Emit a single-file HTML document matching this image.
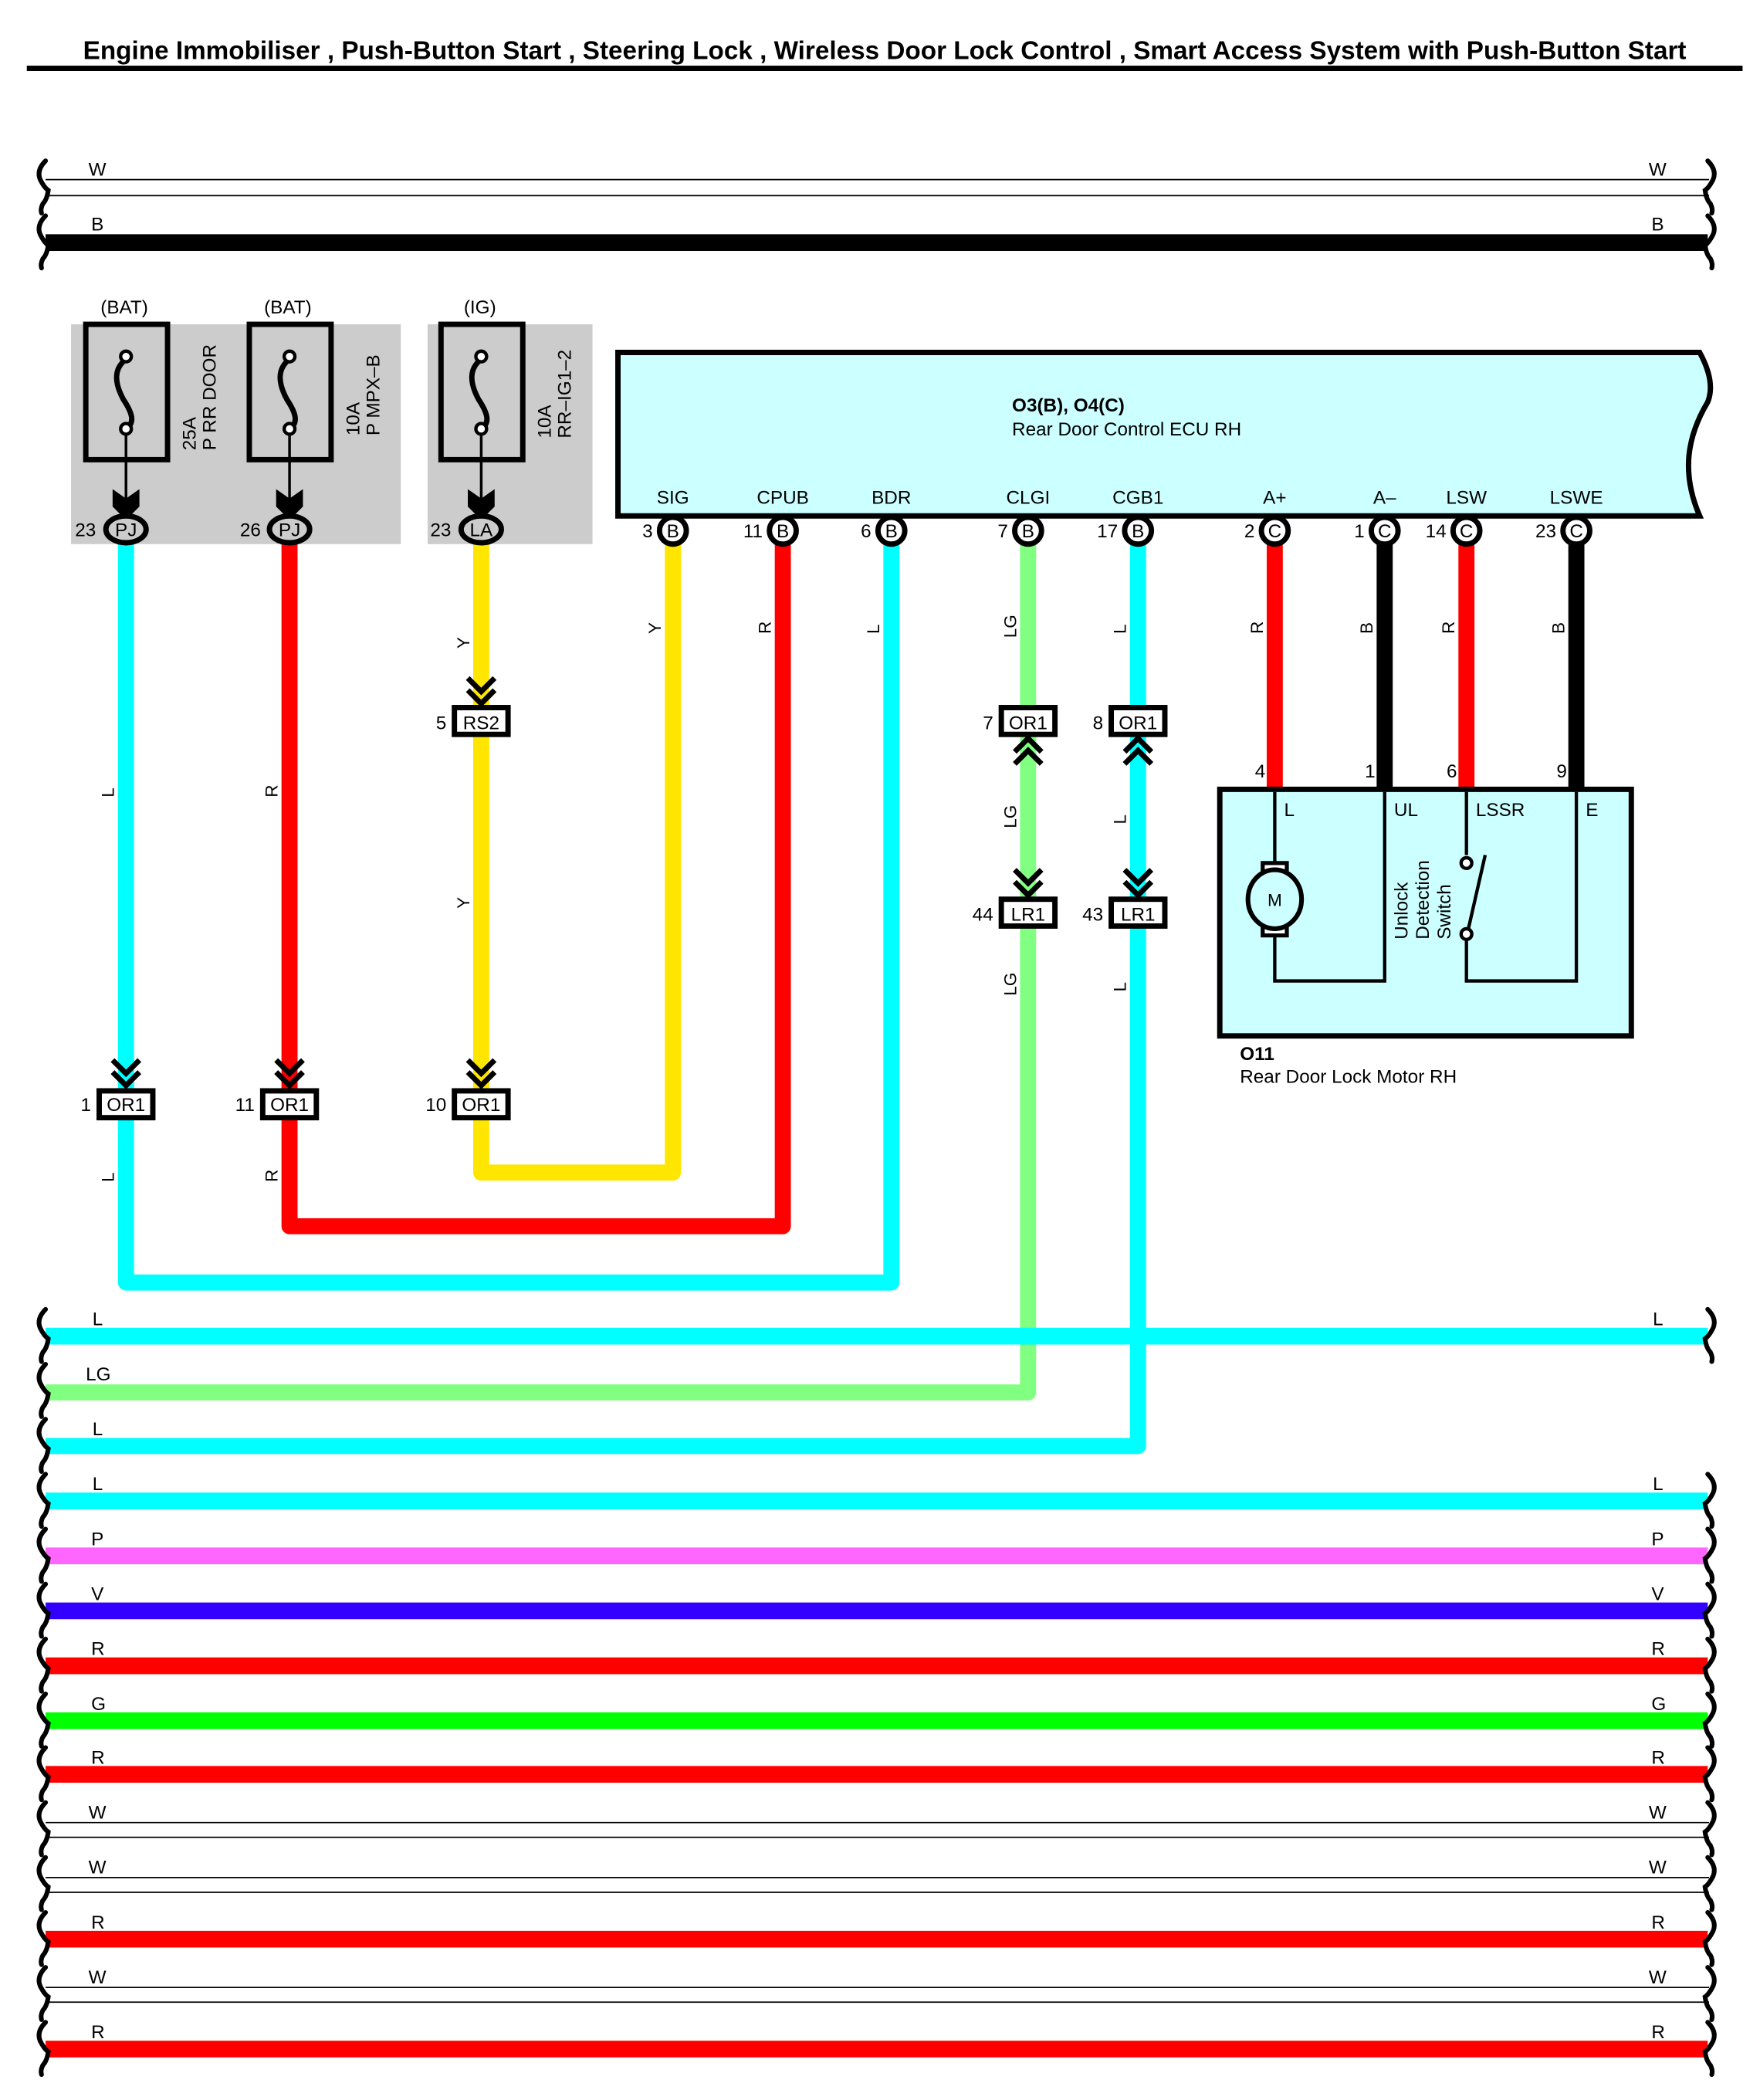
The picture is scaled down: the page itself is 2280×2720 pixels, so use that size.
<!DOCTYPE html>
<html><head><meta charset="utf-8"><style>
html,body{margin:0;padding:0;background:#fff;}
svg{display:block;}
text{font-family:"Liberation Sans Narrow","Liberation Sans",sans-serif;fill:#000;}
</style></head><body>
<svg width="2280" height="2720" viewBox="0 0 1313 1567" preserveAspectRatio="none" xmlns="http://www.w3.org/2000/svg">
<defs>
<path id="sqL" d="M34,-20 Q27,-13 30,-6 Q33,0 36,2 Q35,9 32,12 Q30,16 31,19" fill="none" stroke="#000" stroke-width="3.5" stroke-linecap="round"/>
<path id="sqR" d="M1274,-20 Q1281,-13 1278,-6 Q1275,0 1272,2 Q1273,9 1276,12 Q1278,16 1277,19" fill="none" stroke="#000" stroke-width="3.5" stroke-linecap="round"/>
<g id="chD"><polyline points="-10,-22 0,-12 10,-22" fill="none" stroke="#000" stroke-width="4"/><polyline points="-10,-13 0,-3 10,-13" fill="none" stroke="#000" stroke-width="4"/></g>
<g id="chU"><polyline points="-10,22 0,12 10,22" fill="none" stroke="#000" stroke-width="4"/><polyline points="-10,13 0,3 10,13" fill="none" stroke="#000" stroke-width="4"/></g>
</defs>

<text x="62" y="44" font-size="19" font-weight="bold" textLength="1196" lengthAdjust="spacingAndGlyphs" style="font-family:'Liberation Sans',sans-serif">Engine Immobiliser , Push-Button Start , Steering Lock , Wireless Door Lock Control , Smart Access System with Push-Button Start</text>
<rect x="20" y="49" width="1280" height="4" fill="#000"/>

<line x1="34" y1="134" x2="1275" y2="134" stroke="#000" stroke-width="1"/>
<line x1="34" y1="146" x2="1275" y2="146" stroke="#000" stroke-width="1"/>
<use href="#sqL" transform="translate(0,140)"/><use href="#sqR" transform="translate(0,140)"/>
<text x="66" y="131" font-size="14">W</text><text x="1230" y="131" font-size="14">W</text>
<line x1="34" y1="181" x2="1274" y2="181" stroke="#000" stroke-width="12.5"/>
<use href="#sqL" transform="translate(0,181)"/><use href="#sqR" transform="translate(0,181)"/>
<text x="68" y="172" font-size="14">B</text><text x="1232" y="172" font-size="14">B</text>

<rect x="53" y="242" width="246" height="164" fill="#cccccc"/>
<rect x="319" y="242" width="123" height="164" fill="#cccccc"/>
<g fill="none" stroke="#000" stroke-width="4">
<rect x="64" y="242" width="61" height="101"/>
<rect x="186" y="242" width="61" height="101"/>
<rect x="329" y="242" width="61" height="101"/>
</g>
<g fill="none" stroke="#000" stroke-width="4">
<path d="M94,268 C85,275 85,285 92,298 C100,310 100,316 94,320"/>
<path d="M216,268 C207,275 207,285 214,298 C222,310 222,316 216,320"/>
<path d="M359,268 C350,275 350,285 357,298 C365,310 365,316 359,320"/>
</g>
<g fill="#fff" stroke="#000" stroke-width="2.5">
<circle cx="94" cy="266" r="4"/><circle cx="94" cy="320" r="4"/>
<circle cx="216" cy="266" r="4"/><circle cx="216" cy="320" r="4"/>
<circle cx="359" cy="266" r="4"/><circle cx="359" cy="320" r="4"/>
</g>
<g stroke="#000" stroke-width="2"><line x1="94" y1="324" x2="94" y2="375"/><line x1="216" y1="324" x2="216" y2="375"/><line x1="359" y1="324" x2="359" y2="375"/></g>
<g fill="#000">
<polygon points="84,365 94,372 104,365 104,378 94,388 84,378"/>
<polygon points="206,365 216,372 226,365 226,378 216,388 206,378"/>
<polygon points="349,365 359,372 369,365 369,378 359,388 349,378"/>
</g>
<text x="75" y="234" font-size="14">(BAT)</text>
<text x="197" y="234" font-size="14">(BAT)</text>
<text x="346" y="234" font-size="14">(IG)</text>
<text transform="translate(146,336) rotate(-90)" font-size="14" style="font-family:'Liberation Sans',sans-serif">25A</text>
<text transform="translate(161,336) rotate(-90)" font-size="14" style="font-family:'Liberation Sans',sans-serif">P RR DOOR</text>
<text transform="translate(268,325) rotate(-90)" font-size="14" style="font-family:'Liberation Sans',sans-serif">10A</text>
<text transform="translate(283,325) rotate(-90)" font-size="14" style="font-family:'Liberation Sans',sans-serif">P MPX–B</text>
<text transform="translate(411,327) rotate(-90)" font-size="14" style="font-family:'Liberation Sans',sans-serif">10A</text>
<text transform="translate(426,327) rotate(-90)" font-size="14" style="font-family:'Liberation Sans',sans-serif">RR–IG1–2</text>

<g fill="none" stroke-width="12" stroke-linejoin="round">
<polyline points="94,405 94,957 665,957 665,405" stroke="#00ffff"/>
<polyline points="216,405 216,915 584,915 584,405" stroke="#ff0000"/>
<polyline points="359,405 359,875 502,875 502,405" stroke="#ffe600"/>
<polyline points="767,405 767,1039 34,1039" stroke="#80ff80"/>
<polyline points="849,405 849,1079 34,1079" stroke="#00ffff"/>
<line x1="951" y1="405" x2="951" y2="590" stroke="#ff0000"/>
<line x1="1033" y1="405" x2="1033" y2="590" stroke="#000"/>
<line x1="1094" y1="405" x2="1094" y2="590" stroke="#ff0000"/>
<line x1="1176" y1="405" x2="1176" y2="590" stroke="#000"/>
</g>

<g fill="#cccccc" stroke="#000" stroke-width="4">
<ellipse cx="94" cy="395" rx="15" ry="10"/>
<ellipse cx="216" cy="395" rx="15" ry="10"/>
<ellipse cx="359" cy="395" rx="15" ry="10"/>
</g>
<text x="94" y="400" font-size="14" text-anchor="middle">PJ</text>
<text x="216" y="400" font-size="14" text-anchor="middle">PJ</text>
<text x="359" y="400" font-size="14" text-anchor="middle">LA</text>
<text x="56" y="400" font-size="14">23</text>
<text x="179" y="400" font-size="14">26</text>
<text x="321" y="400" font-size="14">23</text>

<path d="M461,263 L1268,263 Q1280,285 1274,300 Q1262,320 1260,340 Q1258,362 1268,385 L461,385 Z" fill="#ccffff" stroke="#000" stroke-width="4"/>
<text x="755" y="307" font-size="14" font-weight="bold">O3(B), O4(C)</text>
<text x="755" y="325" font-size="14">Rear Door Control ECU RH</text>
<g font-size="14" text-anchor="middle">
<text x="502" y="376">SIG</text><text x="584" y="376">CPUB</text><text x="665" y="376">BDR</text>
<text x="767" y="376">CLGI</text><text x="849" y="376">CGB1</text><text x="951" y="376">A+</text>
<text x="1033" y="376">A–</text><text x="1094" y="376">LSW</text><text x="1176" y="376">LSWE</text>
</g>
<g fill="#fff" stroke="#000" stroke-width="4">
<circle cx="502" cy="396" r="10"/><circle cx="584" cy="396" r="10"/><circle cx="665" cy="396" r="10"/>
<circle cx="767" cy="396" r="10"/><circle cx="849" cy="396" r="10"/><circle cx="951" cy="396" r="10"/>
<circle cx="1033" cy="396" r="10"/><circle cx="1094" cy="396" r="10"/><circle cx="1176" cy="396" r="10"/>
</g>
<g font-size="14" text-anchor="middle">
<text x="502" y="401">B</text><text x="584" y="401">B</text><text x="665" y="401">B</text>
<text x="767" y="401">B</text><text x="849" y="401">B</text><text x="951" y="401">C</text>
<text x="1033" y="401">C</text><text x="1094" y="401">C</text><text x="1176" y="401">C</text>
</g>
<g font-size="14" text-anchor="end">
<text x="487" y="401">3</text><text x="569" y="401">11</text><text x="650" y="401">6</text>
<text x="752" y="401">7</text><text x="834" y="401">17</text><text x="936" y="401">2</text>
<text x="1018" y="401">1</text><text x="1079" y="401">14</text><text x="1161" y="401">23</text>
</g>

<use href="#chD" transform="translate(359,528)"/>
<use href="#chU" transform="translate(767,548)"/>
<use href="#chU" transform="translate(849,548)"/>
<use href="#chD" transform="translate(767,671)"/>
<use href="#chD" transform="translate(849,671)"/>
<use href="#chD" transform="translate(94,813)"/>
<use href="#chD" transform="translate(216,813)"/>
<use href="#chD" transform="translate(359,813)"/>
<g fill="#fff" stroke="#000" stroke-width="4">
<rect x="339" y="528" width="40" height="20"/>
<rect x="747" y="528" width="40" height="20"/>
<rect x="829" y="528" width="40" height="20"/>
<rect x="747" y="671" width="40" height="20"/>
<rect x="829" y="671" width="40" height="20"/>
<rect x="74" y="814" width="40" height="20"/>
<rect x="196" y="814" width="40" height="20"/>
<rect x="339" y="814" width="40" height="20"/>
</g>
<g font-size="14" text-anchor="middle">
<text x="359" y="544">RS2</text><text x="767" y="544">OR1</text><text x="849" y="544">OR1</text>
<text x="767" y="687">LR1</text><text x="849" y="687">LR1</text>
<text x="94" y="829">OR1</text><text x="216" y="829">OR1</text><text x="359" y="829">OR1</text>
</g>
<g font-size="14" text-anchor="end">
<text x="333" y="544">5</text><text x="741" y="544">7</text><text x="823" y="544">8</text>
<text x="741" y="687">44</text><text x="823" y="687">43</text>
<text x="68" y="829">1</text><text x="190" y="829">11</text><text x="333" y="829">10</text>
</g>

<g font-size="13" style="font-family:'Liberation Sans',sans-serif">
<text transform="translate(85,595) rotate(-90)">L</text>
<text transform="translate(207,595) rotate(-90)">R</text>
<text transform="translate(350,484) rotate(-90)">Y</text>
<text transform="translate(350,678) rotate(-90)">Y</text>
<text transform="translate(493,473) rotate(-90)">Y</text>
<text transform="translate(575,473) rotate(-90)">R</text>
<text transform="translate(656,473) rotate(-90)">L</text>
<text transform="translate(758,476) rotate(-90)">LG</text>
<text transform="translate(840,473) rotate(-90)">L</text>
<text transform="translate(942,473) rotate(-90)">R</text>
<text transform="translate(1024,473) rotate(-90)">B</text>
<text transform="translate(1085,473) rotate(-90)">R</text>
<text transform="translate(1167,473) rotate(-90)">B</text>
<text transform="translate(758,618) rotate(-90)">LG</text>
<text transform="translate(840,615) rotate(-90)">L</text>
<text transform="translate(758,743) rotate(-90)">LG</text>
<text transform="translate(840,740) rotate(-90)">L</text>
<text transform="translate(85,882) rotate(-90)">L</text>
<text transform="translate(207,882) rotate(-90)">R</text>
</g>

<rect x="910" y="589" width="307" height="184" fill="#ccffff" stroke="#000" stroke-width="4"/>
<g fill="none" stroke="#000" stroke-width="2.5">
<polyline points="951,591 951,645"/>
<polyline points="951,697 951,732 1033,732 1033,591"/>
<polyline points="1094,591 1094,638"/>
<polyline points="1094,700 1094,732 1176,732 1176,591"/>
<line x1="1108" y1="638" x2="1095" y2="695"/>
</g>
<rect x="942" y="644" width="18" height="11" fill="#fff" stroke="#000" stroke-width="3"/>
<rect x="942" y="687" width="18" height="11" fill="#fff" stroke="#000" stroke-width="3"/>
<ellipse cx="951" cy="671" rx="20" ry="22" fill="#ccffff" stroke="#000" stroke-width="3.5"/>
<text x="951" y="676" font-size="13" text-anchor="middle">M</text>
<circle cx="1094" cy="644" r="4" fill="#fff" stroke="#000" stroke-width="2.5"/>
<circle cx="1094" cy="697" r="4" fill="#fff" stroke="#000" stroke-width="2.5"/>
<g font-size="14">
<text x="958" y="609">L</text><text x="1040" y="609">UL</text><text x="1101" y="609">LSSR</text><text x="1183" y="609">E</text>
<text x="944" y="580" text-anchor="end">4</text><text x="1026" y="580" text-anchor="end">1</text>
<text x="1087" y="580" text-anchor="end">6</text><text x="1169" y="580" text-anchor="end">9</text>
</g>
<g font-size="14" style="font-family:'Liberation Sans',sans-serif">
<text transform="translate(1050,701) rotate(-90)">Unlock</text>
<text transform="translate(1066,701) rotate(-90)">Detection</text>
<text transform="translate(1082,701) rotate(-90)">Switch</text>
</g>
<text x="925" y="791" font-size="14" font-weight="bold">O11</text>
<text x="925" y="808" font-size="14">Rear Door Lock Motor RH</text>

<g stroke-width="12.5">
<line x1="34" y1="997" x2="1274" y2="997" stroke="#00ffff"/>
<line x1="34" y1="1120" x2="1274" y2="1120" stroke="#00ffff"/>
<line x1="34" y1="1161" x2="1274" y2="1161" stroke="#ff66ff"/>
<line x1="34" y1="1202" x2="1274" y2="1202" stroke="#3300ff"/>
<line x1="34" y1="1243" x2="1274" y2="1243" stroke="#ff0000"/>
<line x1="34" y1="1284" x2="1274" y2="1284" stroke="#00ff00"/>
<line x1="34" y1="1324" x2="1274" y2="1324" stroke="#ff0000"/>
<line x1="34" y1="1447" x2="1274" y2="1447" stroke="#ff0000"/>
<line x1="34" y1="1529" x2="1274" y2="1529" stroke="#ff0000"/>
</g>
<g stroke="#000" stroke-width="1">
<line x1="34" y1="1360" x2="1275" y2="1360"/><line x1="34" y1="1371" x2="1275" y2="1371"/>
<line x1="34" y1="1401" x2="1275" y2="1401"/><line x1="34" y1="1412" x2="1275" y2="1412"/>
<line x1="34" y1="1483" x2="1275" y2="1483"/><line x1="34" y1="1494" x2="1275" y2="1494"/>
</g>
<use href="#sqL" transform="translate(0,997)"/><use href="#sqR" transform="translate(0,997)"/>
<use href="#sqL" transform="translate(0,1038)"/>
<use href="#sqL" transform="translate(0,1079)"/>
<use href="#sqL" transform="translate(0,1120)"/><use href="#sqR" transform="translate(0,1120)"/>
<use href="#sqL" transform="translate(0,1161)"/><use href="#sqR" transform="translate(0,1161)"/>
<use href="#sqL" transform="translate(0,1202)"/><use href="#sqR" transform="translate(0,1202)"/>
<use href="#sqL" transform="translate(0,1243)"/><use href="#sqR" transform="translate(0,1243)"/>
<use href="#sqL" transform="translate(0,1284)"/><use href="#sqR" transform="translate(0,1284)"/>
<use href="#sqL" transform="translate(0,1324)"/><use href="#sqR" transform="translate(0,1324)"/>
<use href="#sqL" transform="translate(0,1365)"/><use href="#sqR" transform="translate(0,1365)"/>
<use href="#sqL" transform="translate(0,1406)"/><use href="#sqR" transform="translate(0,1406)"/>
<use href="#sqL" transform="translate(0,1447)"/><use href="#sqR" transform="translate(0,1447)"/>
<use href="#sqL" transform="translate(0,1488)"/><use href="#sqR" transform="translate(0,1488)"/>
<use href="#sqL" transform="translate(0,1529)"/><use href="#sqR" transform="translate(0,1529)"/>
<g font-size="14">
<text x="69" y="989">L</text><text x="1233" y="989">L</text>
<text x="64" y="1030">LG</text>
<text x="69" y="1071">L</text>
<text x="69" y="1112">L</text><text x="1233" y="1112">L</text>
<text x="68" y="1153">P</text><text x="1232" y="1153">P</text>
<text x="68" y="1194">V</text><text x="1232" y="1194">V</text>
<text x="68" y="1235">R</text><text x="1232" y="1235">R</text>
<text x="68" y="1276">G</text><text x="1232" y="1276">G</text>
<text x="68" y="1316">R</text><text x="1232" y="1316">R</text>
<text x="66" y="1357">W</text><text x="1230" y="1357">W</text>
<text x="66" y="1398">W</text><text x="1230" y="1398">W</text>
<text x="68" y="1439">R</text><text x="1232" y="1439">R</text>
<text x="66" y="1480">W</text><text x="1230" y="1480">W</text>
<text x="68" y="1521">R</text><text x="1232" y="1521">R</text>
</g>
</svg>
</body></html>
